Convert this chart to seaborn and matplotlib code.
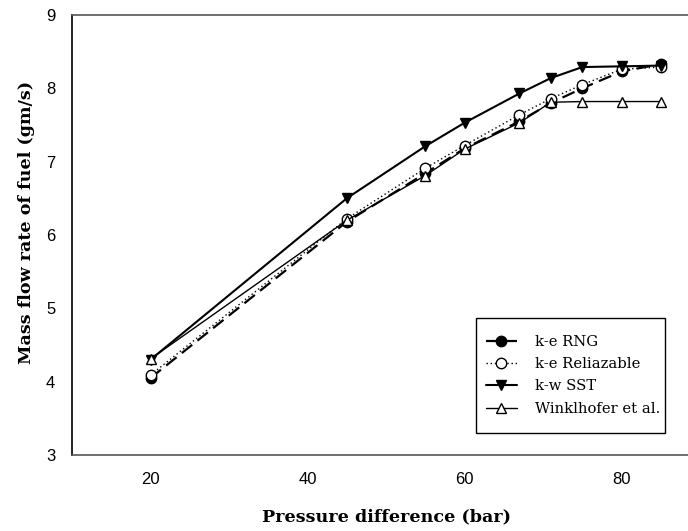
import matplotlib
matplotlib.use("Agg")
import matplotlib.pyplot as plt
from matplotlib.patches import Rectangle
import seaborn as sns
import pandas as pd

pressure = [20, 45, 55, 60, 67, 71, 75, 80, 85]
ke_rng = [4.05, 6.18, 6.84, 7.18, 7.55, 7.80, 8.00, 8.23, 8.33]
ke_real = [4.09, 6.22, 6.91, 7.22, 7.64, 7.86, 8.05, 8.26, 8.29]
kw_sst = [4.30, 6.50, 7.21, 7.53, 7.93, 8.14, 8.29, 8.30, 8.31]
winkl = [4.31, 6.20, 6.81, 7.17, 7.53, 7.81, 7.82, 7.82, 7.82]
labels = ["k-e RNG", "k-e Reliazable", "k-w SST", "Winklhofer et al."]
x_ticks = [20, 40, 60, 80]
y_ticks = [3, 4, 5, 6, 7, 8, 9]

sns.set_style("white")
plt.rcParams['font.family'] = ['Liberation Sans', 'DejaVu Sans']
plt.rcParams['text.color'] = 'black'
plt.rcParams['axes.labelcolor'] = 'black'

W, H = 688, 531
fig = plt.figure(figsize=(6.88, 5.31), dpi=100)
ax = fig.add_axes([72/W, 76/H, 628/W, 440/H])

styles = [
    dict(marker="o", markerfacecolor="black", markeredgecolor="black", linestyle=(0, (6, 3)), linewidth=1.6),
    dict(marker="o", markerfacecolor="white", markeredgecolor="black", linestyle=(0, (1, 2)), linewidth=1.0),
    dict(marker="v", markerfacecolor="black", markeredgecolor="black", linestyle="-", linewidth=1.5),
    dict(marker="^", markerfacecolor="white", markeredgecolor="black", linestyle="-", linewidth=1.0),
]
series = [ke_rng, ke_real, kw_sst, winkl]
for vals, lab, st in zip(series, labels, styles):
    df = pd.DataFrame({"p": pressure, "m": vals})
    sns.lineplot(data=df, x="p", y="m", ax=ax, color="black", label=lab,
                 markersize=7.5, markeredgewidth=1.0, **st)

ax.set_xlim(10, 90)
ax.set_ylim(3, 9)
ax.set_xticks(x_ticks)
ax.set_yticks(y_ticks)
ax.tick_params(axis="both", direction="out", length=6, width=1, colors="#555555",
               labelcolor="black", labelsize=12, pad=6)
ax.tick_params(axis="y", colors="black", labelcolor="black")
ax.spines["right"].set_visible(False)
ax.spines["left"].set_color("black")
ax.spines["bottom"].set_color("#555555")
ax.spines["top"].set_color("#555555")
for s in ["left", "bottom", "top"]:
    ax.spines[s].set_linewidth(1.2)

serif = ["DejaVu Serif"]
ax.set_xlabel("Pressure difference (bar)", family=serif, fontweight="bold", fontsize=12.6,
              color="black")
ax.set_ylabel("Mass flow rate of fuel (gm/s)", family=serif, fontweight="bold", fontsize=12.6,
              color="black")
ax.xaxis.set_label_coords((386-72)/628, -(508-455)/440)
ax.yaxis.set_label_coords(-(72-35)/628, (455-222)/440)

# legend contents (frame drawn separately to get the reference's asymmetric padding)
leg = ax.legend(loc="upper left", bbox_to_anchor=((486-72)/628, (455-335)/440),
                frameon=False, prop={"family": serif, "size": 10.6},
                handlelength=2.1, borderpad=0, borderaxespad=0, labelspacing=0.56,
                handletextpad=1.2)
for t in leg.get_texts():
    t.set_color("black")
frame = Rectangle((476/W, (H-433)/H), (665-476)/W, (433-318)/H,
                  transform=fig.transFigure, fill=True, facecolor="white",
                  edgecolor="black", linewidth=1.0, zorder=4, clip_on=False)
ax.add_artist(frame)
leg.set_zorder(5)

fig.savefig("out.png", dpi=100)
